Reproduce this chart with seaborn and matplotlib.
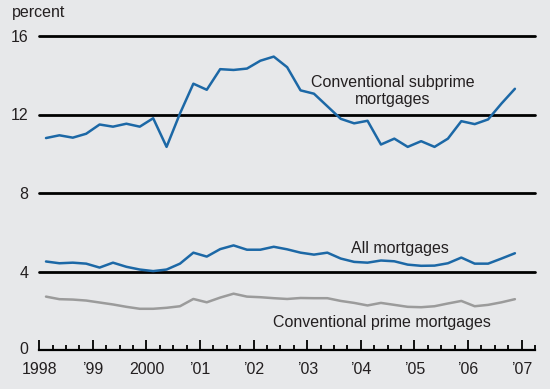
import numpy as np
import pandas as pd
import matplotlib
matplotlib.use("Agg")
import matplotlib.pyplot as plt
import matplotlib.transforms as mtransforms
import seaborn as sns
from matplotlib.ticker import MultipleLocator

# ---- data (quarterly, 1998Q1 - 2006Q4), percent ----
years = list(range(1998, 2007))
quarter_nums = [1, 2, 3, 4]

subprime = [10.80, 10.94, 10.82, 11.02, 11.49, 11.38, 11.53, 11.38, 11.81, 10.35,
            12.05, 13.57, 13.26, 14.31, 14.27, 14.34, 14.74, 14.95, 14.41, 13.23,
            13.06, 12.42, 11.78, 11.55, 11.68, 10.47, 10.77, 10.35, 10.64, 10.35,
            10.77, 11.66, 11.51, 11.75, 12.56, 13.31]
all_mortgages = [4.51, 4.42, 4.45, 4.40, 4.20, 4.45, 4.24, 4.10, 4.02, 4.10,
                 4.40, 4.96, 4.76, 5.14, 5.33, 5.11, 5.11, 5.26, 5.13, 4.96,
                 4.86, 4.96, 4.66, 4.49, 4.45, 4.56, 4.52, 4.35, 4.29, 4.30,
                 4.42, 4.71, 4.40, 4.40, 4.66, 4.93]
prime = [2.72, 2.59, 2.57, 2.52, 2.42, 2.32, 2.20, 2.10, 2.10, 2.15,
         2.23, 2.60, 2.43, 2.67, 2.87, 2.72, 2.69, 2.64, 2.60, 2.65,
         2.64, 2.64, 2.50, 2.40, 2.27, 2.40, 2.30, 2.20, 2.18, 2.23,
         2.37, 2.50, 2.23, 2.30, 2.43, 2.59]

year_ticks = [1998, 1999, 2000, 2001, 2002, 2003, 2004, 2005, 2006, 2007]
year_labels = ["1998", "\u201999", "2000", "\u201901", "\u201902", "\u201903",
               "\u201904", "\u201905", "\u201906", "\u201907"]
y_ticks = [0, 4, 8, 12, 16]

series_names = ["Conventional subprime mortgages", "All mortgages",
                "Conventional prime mortgages"]

# ---- build long-form table ----
xpos = [y + (q - 0.5) / 4 for y in years for q in quarter_nums]
df = pd.concat([
    pd.DataFrame({"t": xpos, "rate": subprime, "series": series_names[0]}),
    pd.DataFrame({"t": xpos, "rate": all_mortgages, "series": series_names[1]}),
    pd.DataFrame({"t": xpos, "rate": prime, "series": series_names[2]}),
])

bg = "#E7E8EA"
blue = "#1C68A6"
grey = "#9B9B9B"
txt = "#231F20"

sns.set_theme(style="white")
plt.rcParams["font.family"] = ["Liberation Sans", "DejaVu Sans"]

fig = plt.figure(figsize=(5.5, 3.89), dpi=100, facecolor=bg)
ax = fig.add_axes([39.3 / 550, 1 - 350 / 389, (535 - 39.3) / 550, (350 - 36) / 389])
ax.set_facecolor(bg)

# gridlines
for yv in y_ticks[1:]:
    ax.axhline(yv, color="black", lw=2.0, zorder=1, clip_on=False)

sns.lineplot(data=df, x="t", y="rate", hue="series",
             palette={series_names[0]: blue, series_names[1]: blue, series_names[2]: grey},
             linewidth=1.8, legend=False, ax=ax, zorder=3)
for line in ax.lines:
    line.set_clip_on(False)

ax.set_xlim(1998, 2007.25)
ax.set_ylim(0, 16)
ax.set_xlabel("")
ax.set_ylabel("")

for s in ["top", "right", "left"]:
    ax.spines[s].set_visible(False)
ax.spines["bottom"].set_color("black")
ax.spines["bottom"].set_linewidth(1.6)

ax.set_xticks(year_ticks)
ax.set_xticklabels(year_labels, fontsize=11.5, color=txt)
ax.xaxis.set_minor_locator(MultipleLocator(0.25))
ax.tick_params(axis="x", which="major", direction="in", length=7, width=1.3,
               color="black", pad=9, bottom=True)
ax.tick_params(axis="x", which="minor", direction="in", length=3.5, width=1.3,
               color="black", bottom=True)

ax.set_yticks(y_ticks)
ax.set_yticklabels([str(v) for v in y_ticks], fontsize=11.5, color=txt)
ax.tick_params(axis="y", length=0, pad=8)
zero_lbl = ax.get_yticklabels()[0]
zero_lbl.set_transform(zero_lbl.get_transform() +
                       mtransforms.ScaledTranslation(0, 2.5 / 100, fig.dpi_scale_trans))

ax.text(2004.6, 13.2, "Conventional subprime\nmortgages", ha="center", va="center",
        fontsize=11.5, color=txt, linespacing=1.15)
ax.text(2004.73, 5.18, "All mortgages", ha="center", va="center",
        fontsize=11.5, color=txt)
ax.text(2004.39, 1.4, "Conventional prime mortgages", ha="center", va="center",
        fontsize=11.5, color=txt)

fig.text(12 / 550, 1 - 12 / 389, "percent", ha="left", va="center",
         fontsize=11.5, color=txt)

fig.savefig("out.png", dpi=100, facecolor=bg)
